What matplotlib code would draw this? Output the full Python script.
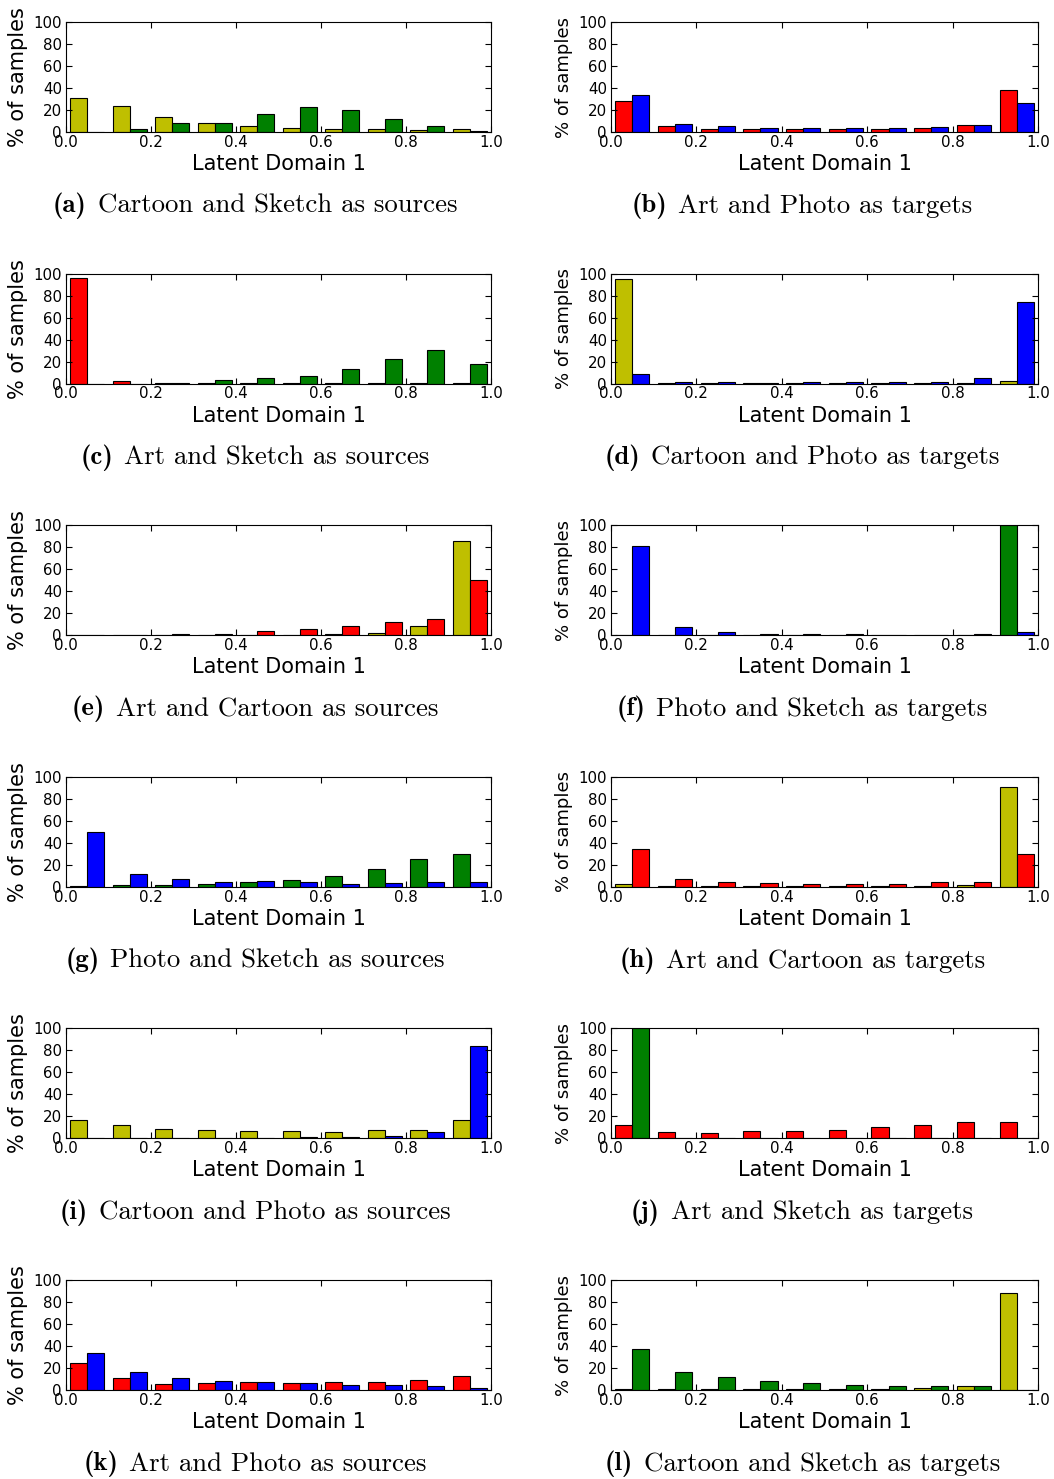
import numpy as np
import matplotlib
matplotlib.use("Agg")
import matplotlib.pyplot as plt

# data: % of samples per bin of latent domain 1 (10 bins)
bins = np.linspace(0, 1, 11)

a_cartoon = [31, 24, 14, 8, 5, 4, 3, 2.5, 2, 3]
a_sketch = [0.3, 3, 8, 8, 16, 23, 20, 12, 5, 1]

b_art = [28, 5, 3, 3, 3, 3, 3, 4, 6, 38]
b_photo = [34, 7, 5, 4, 3.5, 3.5, 3.5, 4.5, 6, 26]

c_art = [96, 2, 0.5, 0.2, 0.2, 0.3, 0.2, 0.2, 0.2, 0.2]
c_sketch = [0, 0, 0.3, 3, 5, 7, 13, 22, 31, 18]

d_cartoon = [95, 0.8, 0.3, 0.3, 0.2, 0.2, 0.2, 0.2, 0.2, 2]
d_photo = [9, 1.5, 1.2, 0.8, 1.2, 1.2, 1.2, 1.5, 5.5, 74]

e_cartoon = [0, 0.2, 0.3, 0.4, 0.3, 0.5, 0.8, 2, 8, 86]
e_art = [0, 0.3, 0.8, 1.5, 3.5, 5.5, 8.5, 12, 15, 50]

f_sketch = [0, 0, 0, 0, 0, 0, 0, 0, 0, 100]
f_photo = [81, 7.5, 2.5, 1.5, 1.2, 0.7, 0.5, 0.5, 0.8, 2.5]

g_sketch = [0.5, 1.5, 1.5, 2.5, 4, 6.5, 10, 16.5, 25, 30]
g_photo = [50, 12, 7, 4.5, 5, 4.5, 3, 3.5, 4, 4.5]

h_cartoon = [3, 0.8, 0.3, 0.5, 0.3, 0.5, 0.3, 0.5, 1.5, 91]
h_art = [34, 7, 4.5, 3.5, 3, 3, 2.5, 4, 4.5, 30]

i_cartoon = [17, 12, 9, 8, 6.5, 7, 6, 7.5, 7.5, 16.5]
i_photo = [0.8, 0.8, 0.5, 0.5, 0.8, 1.2, 1.5, 1.8, 5.5, 84]

j_art = [12.5, 5.5, 5, 7, 7, 8, 10.5, 12, 15, 15]
j_sketch = [100, 0, 0, 0, 0, 0, 0, 0, 0, 0]

k_art = [25, 10.5, 5.5, 6.5, 7, 6.5, 7.5, 7, 9.5, 13]
k_photo = [33.5, 16.5, 11, 8.5, 7, 6, 5, 4.5, 4, 1.5]

l_cartoon = [0.5, 0.5, 0.5, 0.5, 0.5, 0.8, 0.5, 2, 4, 88.5]
l_sketch = [37.5, 16.5, 11.5, 8.5, 6, 4.5, 3.5, 4, 3.5, 0.2]

# colours (classic matplotlib short names)
cy = "#bfbf00"
cg = "#008000"
cr = "#ff0000"
cb = "#0000ff"

panels = [
    ("a", "Cartoon and Sketch as sources", a_cartoon, a_sketch, cy, cg),
    ("b", "Art and Photo as targets", b_art, b_photo, cr, cb),
    ("c", "Art and Sketch as sources", c_art, c_sketch, cr, cg),
    ("d", "Cartoon and Photo as targets", d_cartoon, d_photo, cy, cb),
    ("e", "Art and Cartoon as sources", e_cartoon, e_art, cy, cr),
    ("f", "Photo and Sketch as targets", f_sketch, f_photo, cg, cb),
    ("g", "Photo and Sketch as sources", g_sketch, g_photo, cg, cb),
    ("h", "Art and Cartoon as targets", h_cartoon, h_art, cy, cr),
    ("i", "Cartoon and Photo as sources", i_cartoon, i_photo, cy, cb),
    ("j", "Art and Sketch as targets", j_art, j_sketch, cr, cg),
    ("k", "Art and Photo as sources", k_art, k_photo, cr, cb),
    ("l", "Cartoon and Sketch as targets", l_cartoon, l_sketch, cy, cg),
]

# style
plt.rcParams.update({
    "font.family": "DejaVu Sans",
    "xtick.direction": "in",
    "ytick.direction": "in",
    "xtick.top": True,
    "ytick.right": True,
    "xtick.major.size": 4,
    "ytick.major.size": 4,
    "xtick.labelsize": 10.8,
    "ytick.labelsize": 10.8,
    "xtick.major.pad": 2,
    "ytick.major.pad": 3,
})

W, H = 1054, 1479
fig = plt.figure(figsize=(W / 100, H / 100), dpi=100)
rend = fig.canvas.get_renderer()

edges = bins[:-1]
bw = 0.04
CFS = 19.3

for n, (lab, cap, v1, v2, c1, c2) in enumerate(panels):
    row, col = n // 2, n % 2
    top = 22 + 251.6 * row
    if col == 0:
        x0, x1, capx, ylx, yfs = 66, 491, 255, 28, 15
    else:
        x0, x1, capx, ylx, yfs = 611, 1038, 802, 573, 13
    ax = fig.add_axes([x0 / W, 1 - (top + 110) / H, (x1 - x0) / W, 110 / H])
    ax.bar(edges + 0.01, v1, width=bw, align="edge", color=c1, edgecolor="k", lw=0.8)
    ax.bar(edges + 0.05, v2, width=bw, align="edge", color=c2, edgecolor="k", lw=0.8)
    ax.set_xlim(0, 1)
    ax.set_ylim(0, 100)
    ax.set_xticks([0, 0.2, 0.4, 0.6, 0.8, 1.0])
    ax.set_xticklabels(["0.0", "0.2", "0.4", "0.6", "0.8", "1.0"])
    ax.set_yticks([0, 20, 40, 60, 80, 100])
    ax.set_xlabel("Latent Domain 1", fontsize=15, labelpad=3)
    ax.yaxis.set_label_coords((ylx - x0) / (x1 - x0), 0.5)
    ax.set_ylabel("% of samples", fontsize=yfs)

    # caption: bold label + roman text, centred together
    yc = 1 - (top + 184) / H
    t1 = fig.text(0, yc, "(" + lab + ")", family="cmb10", fontsize=CFS, va="center")
    t2 = fig.text(0, yc, cap, family="cmr10", fontsize=CFS, va="center")
    w1 = t1.get_window_extent(rend).width
    w2 = t2.get_window_extent(rend).width
    gap = 11
    xs = capx - (w1 + gap + w2) / 2
    t1.set_x(xs / W)
    t2.set_x((xs + w1 + gap) / W)

fig.savefig("out.png", dpi=100)
